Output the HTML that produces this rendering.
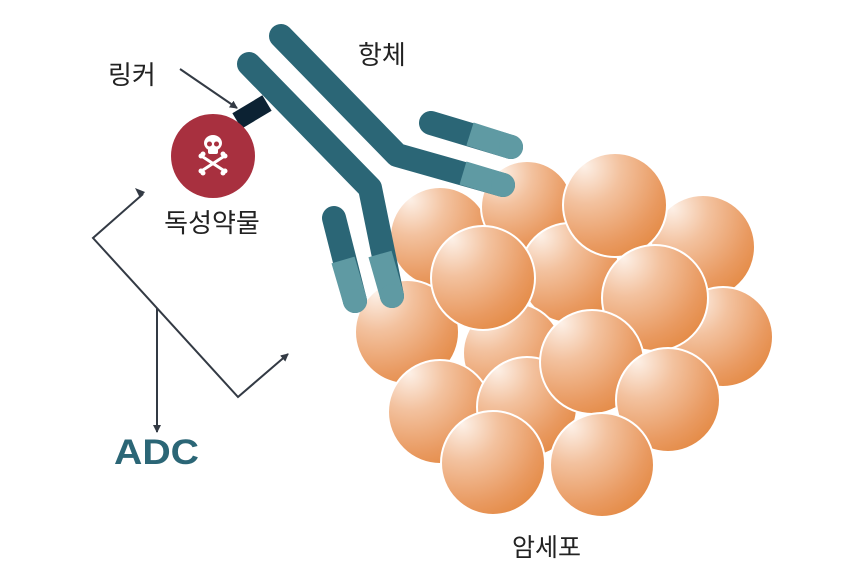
<!DOCTYPE html>
<html><head><meta charset="utf-8"><style>
html,body{margin:0;padding:0;background:#fff;width:850px;height:588px;overflow:hidden}
text{font-family:"Liberation Sans","Noto Sans CJK KR",sans-serif}
</style></head><body>
<svg width="850" height="588" viewBox="0 0 850 588" xmlns="http://www.w3.org/2000/svg">
<defs>
<radialGradient id="g" cx="0.25" cy="0.2" r="0.95" fx="0.2" fy="0.12">
<stop offset="0" stop-color="#fdf1e8"/>
<stop offset="0.35" stop-color="#f3c29f"/>
<stop offset="0.75" stop-color="#e99a61"/>
<stop offset="1" stop-color="#e3873f"/>
</radialGradient>
<marker id="ah" markerWidth="8" markerHeight="8" refX="7" refY="4" orient="auto" markerUnits="userSpaceOnUse" viewBox="0 0 8 8">
<path d="M0,0 L8,4 L0,8 Z" fill="#333a44"/></marker>
</defs>
<g fill="url(#g)" stroke="#fff" stroke-width="2">
<circle cx="440" cy="237" r="50"/>
<circle cx="527" cy="207" r="46"/>
<circle cx="703" cy="247" r="52"/>
<circle cx="407" cy="332" r="52"/>
<circle cx="570" cy="273" r="50"/>
<circle cx="723" cy="337" r="50"/>
<circle cx="513" cy="353" r="50"/>
<circle cx="440" cy="412" r="52"/>
<circle cx="527" cy="407" r="50"/>
<circle cx="615" cy="205" r="52"/>
<circle cx="483" cy="278" r="52"/>
<circle cx="655" cy="298" r="53"/>
<circle cx="592" cy="362" r="52"/>
<circle cx="668" cy="400" r="52"/>
<circle cx="493" cy="463" r="52"/>
<circle cx="602" cy="465" r="52"/>
</g>
<line x1="237" y1="121" x2="267" y2="103" stroke="#0c2233" stroke-width="18"/>
<g fill="none" stroke-linecap="round" stroke-linejoin="round" stroke-width="24" stroke="#2b6676">
<polyline points="503,185 397,155 281,36"/>
<polyline points="392,296 370,188 249,64"/>
<line x1="431" y1="123" x2="511" y2="147"/>
<line x1="334" y1="218" x2="355" y2="301"/>
</g>
<g fill="none" stroke-linecap="butt" stroke-width="24" stroke="#5f9aa3">
<line x1="463" y1="173" x2="503" y2="185"/>
<line x1="380" y1="254" x2="392" y2="296"/>
<line x1="470" y1="134" x2="511" y2="147"/>
<line x1="343" y1="260" x2="355" y2="301"/>
</g>
<g fill="#5f9aa3">
<circle cx="503" cy="185" r="12"/><circle cx="392" cy="296" r="12"/>
<circle cx="511" cy="147" r="12"/><circle cx="355" cy="301" r="12"/>
</g>
<circle cx="213" cy="156" r="42" fill="#a8303f"/>
<g fill="#fff">
<ellipse cx="213" cy="143" rx="9" ry="8"/>
<rect x="208" y="146" width="10" height="8" rx="2"/>
<circle cx="209.5" cy="144" r="2.5" fill="#a8303f"/>
<circle cx="216.5" cy="144" r="2.5" fill="#a8303f"/>
<g stroke="#fff" stroke-width="3" stroke-linecap="round">
<line x1="203" y1="157" x2="223" y2="170"/>
<line x1="223" y1="157" x2="203" y2="170"/>
</g>
<circle cx="201" cy="156" r="2.5"/><circle cx="203" cy="154" r="2.5"/>
<circle cx="225" cy="156" r="2.5"/><circle cx="223" cy="154" r="2.5"/>
<circle cx="201" cy="171" r="2.5"/><circle cx="203" cy="173" r="2.5"/>
<circle cx="225" cy="171" r="2.5"/><circle cx="223" cy="173" r="2.5"/>
</g>
<g stroke="#333a44" stroke-width="2" fill="none">
<line x1="180" y1="69" x2="237" y2="108" marker-end="url(#ah)"/>
<polyline points="143,194 93,238 238,397 288,354" marker-end="url(#ah)"/>
<line x1="157" y1="308" x2="157" y2="432" marker-end="url(#ah)"/>
</g>
<path d="M135,188 L145,192 L140,198 Z" fill="#333a44"/>
<text x="108" y="84" font-size="26" fill="#222">링커</text>
<text x="358" y="64" font-size="26" fill="#222">항체</text>
<text x="212" y="232" font-size="26" fill="#222" text-anchor="middle">독성약물</text>
<text x="114" y="464" font-size="35" font-weight="bold" fill="#2b6676" textLength="85" lengthAdjust="spacingAndGlyphs">ADC</text>
<text x="512" y="556" font-size="25" fill="#222">암세포</text>
</svg>
</body></html>
